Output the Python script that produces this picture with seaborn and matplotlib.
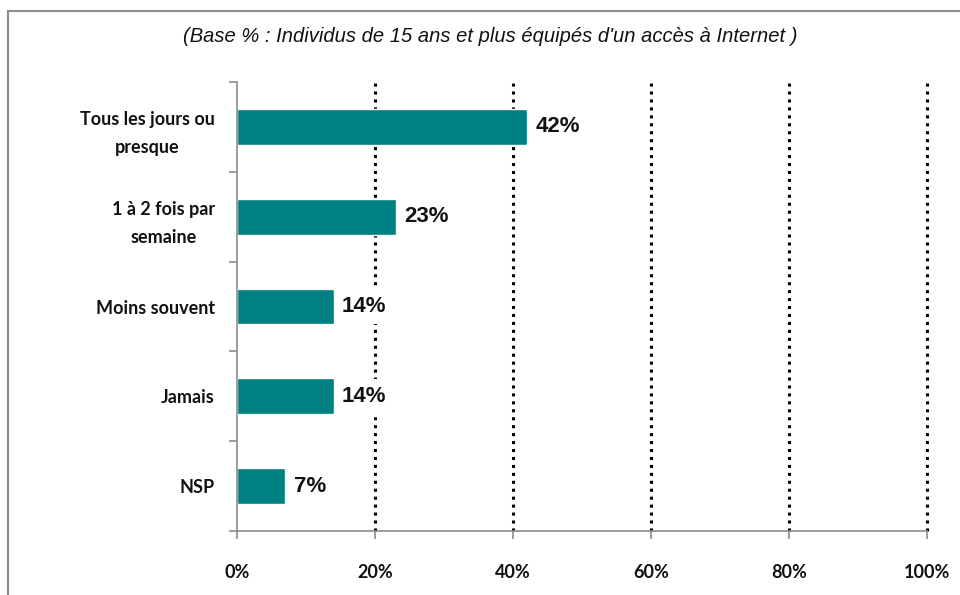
import matplotlib
matplotlib.use("Agg")
import matplotlib.pyplot as plt
import seaborn as sns
import pandas as pd
from matplotlib.patches import Rectangle
from matplotlib.ticker import FixedLocator

categories = ["Tous les jours ou\npresque", "1 à 2 fois par\nsemaine", "Moins souvent", "Jamais", "NSP"]
values = [42, 23, 14, 14, 7]
xticks = [0, 20, 40, 60, 80, 100]
xtick_labels = ["0%", "20%", "40%", "60%", "80%", "100%"]
title = "(Base % : Individus de 15 ans et plus équipés d'un accès à Internet )"

df = pd.DataFrame({"cat": categories, "val": values})

sns.set_theme(style="white")
plt.rcParams["font.family"] = ["Lato", "DejaVu Sans"]
W = "bold"

fig = plt.figure(figsize=(9.6, 5.95), dpi=100)
ax = fig.add_axes([237/960, 1-531/595, 690/960, (531-82)/595])

sns.barplot(data=df, x="val", y="cat", orient="h", color="#008080",
            saturation=1, width=0.4, ax=ax)

ax.set_xlim(0, 100)
ax.set_ylim(len(categories)-0.5, -0.5)
ax.set_xlabel("")
ax.set_ylabel("")

# spines
for s in ["top", "right"]:
    ax.spines[s].set_visible(False)
for s in ["left", "bottom"]:
    ax.spines[s].set_color("#8c8c8c")
    ax.spines[s].set_linewidth(1.2)

# x ticks
ax.set_xticks(xticks)
ax.set_xticklabels(xtick_labels, fontsize=13, fontweight=W, color="#111111")
ax.tick_params(axis="x", which="major", length=6, width=1.2, color="#8c8c8c",
               direction="out", pad=18, bottom=True)

# y ticks: labels at centers, marks at boundaries
ax.set_yticks(range(len(categories)))
ax.set_yticklabels(categories, fontsize=13, fontweight=W, color="#111111",
                   multialignment="center", linespacing=1.75)
ax.tick_params(axis="y", which="major", length=0, pad=16, left=False)
ax.yaxis.set_minor_locator(FixedLocator([i - 0.5 for i in range(len(categories)+1)]))
ax.tick_params(axis="y", which="minor", length=6, width=1.2, color="#8c8c8c",
               direction="out", left=True)

# dotted gridlines
ax.xaxis.grid(True, which="major", color="black", linestyle=(0, (1, 1.6)), linewidth=2.2)
ax.set_axisbelow(True)
for gl in ax.get_xgridlines():
    gl.set_clip_on(False)
ax.get_xgridlines()[0].set_visible(False)

# value labels
for i, v in enumerate(values):
    ax.annotate(f"{v}%", xy=(v, i), xytext=(6, 0), textcoords="offset points",
                ha="left", va="center", fontsize=16, fontweight="bold",
                family=["Liberation Sans", "DejaVu Sans"], color="#111111",
                bbox=dict(boxstyle="square,pad=0.3", fc="white", ec="none"))

# title
fig.text(490/960, 1-37/595, title, ha="center", va="center", fontsize=14.5,
         style="italic", family=["Liberation Sans", "DejaVu Sans"], color="#111111")

# border
fig.patches.append(Rectangle((8/960, -0.05), 1.2, 0.05 + 1-11/595, transform=fig.transFigure,
                             fill=False, edgecolor="#8c8c8c", linewidth=1.5, clip_on=False))

fig.savefig("out.png", dpi=100)
